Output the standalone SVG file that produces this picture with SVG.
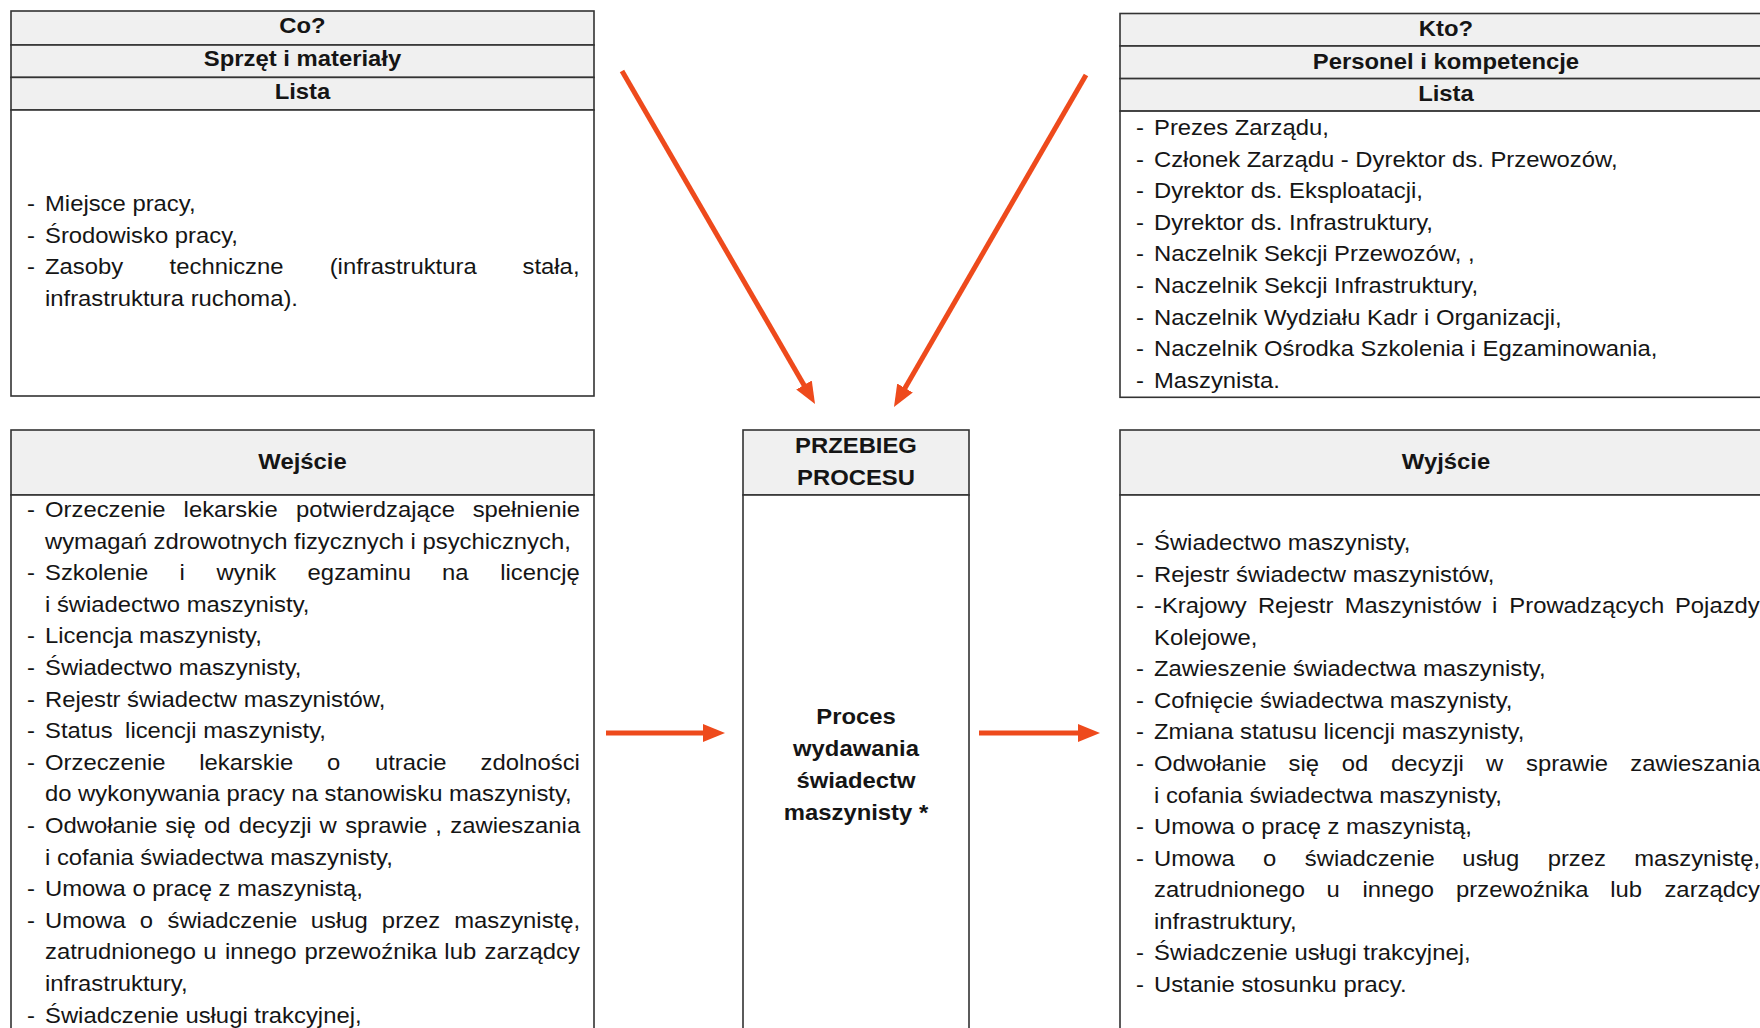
<svg xmlns="http://www.w3.org/2000/svg" width="1760" height="1028" viewBox="0 0 1760 1028">
<defs>
<style>
.hdr{fill:#f0f0f0;stroke:#333;stroke-width:1.6}
.body{fill:#fff;stroke:#333;stroke-width:1.6}
.t{font-family:"Liberation Sans",Arial,sans-serif;font-size:21.2px;fill:#151515}
.b{font-family:"Liberation Sans",Arial,sans-serif;font-size:21.2px;font-weight:bold;fill:#151515;text-anchor:middle}
.arr{stroke:#ee4a1c;stroke-width:5;fill:none;marker-end:url(#ah)}
</style>
<marker id="ah" markerUnits="userSpaceOnUse" markerWidth="24" markerHeight="20" refX="8" refY="9" orient="auto" viewBox="0 0 24 18">
<path d="M0,0 L22,9 L0,18 Z" fill="#ee4a1c"/>
</marker>
</defs>
<rect width="1760" height="1028" fill="#fff"/>

<g id="co">
<rect class="hdr" x="11" y="11" width="583" height="34"/>
<rect class="hdr" x="11" y="45" width="583" height="32.4"/>
<rect class="hdr" x="11" y="77.4" width="583" height="32.6"/>
<rect class="body" x="11" y="110" width="583" height="286"/>
<g transform="scale(1.125 1)">
<text class="b" x="268.89" y="33">Co?</text>
<text class="b" x="268.89" y="66">Sprzęt i materiały</text>
<text class="b" x="268.89" y="99">Lista</text>
<g class="t">
<text x="24" y="211">-</text><text x="40" y="211">Miejsce pracy,</text>
<text x="24" y="242.7">-</text><text x="40" y="242.7">Środowisko pracy,</text>
<text x="24" y="274.4">-</text><text x="40" y="274.4"><tspan x="40">Zasoby</tspan><tspan x="150.76">techniczne</tspan><tspan x="293.05">(infrastruktura</tspan><tspan x="464.48">stała,</tspan></text>
<text x="40" y="306">infrastruktura ruchoma).</text>
</g>
</g>
</g>

<g id="kto">
<rect class="hdr" x="1120" y="13.5" width="652" height="32.5"/>
<rect class="hdr" x="1120" y="46" width="652" height="32.6"/>
<rect class="hdr" x="1120" y="78.6" width="652" height="32.5"/>
<rect class="body" x="1120" y="111.1" width="652" height="286.2"/>
<g transform="scale(1.125 1)">
<text class="b" x="1285.33" y="36">Kto?</text>
<text class="b" x="1285.33" y="69">Personel i kompetencje</text>
<text class="b" x="1285.33" y="101.5">Lista</text>
<g class="t">
<text x="1009.78" y="135">-</text><text x="1025.78" y="135">Prezes Zarządu,</text>
<text x="1009.78" y="166.6">-</text><text x="1025.78" y="166.6">Członek Zarządu - Dyrektor ds. Przewozów,</text>
<text x="1009.78" y="198.2">-</text><text x="1025.78" y="198.2">Dyrektor ds. Eksploatacji,</text>
<text x="1009.78" y="229.8">-</text><text x="1025.78" y="229.8">Dyrektor ds. Infrastruktury,</text>
<text x="1009.78" y="261.4">-</text><text x="1025.78" y="261.4">Naczelnik Sekcji Przewozów, ,</text>
<text x="1009.78" y="293">-</text><text x="1025.78" y="293">Naczelnik Sekcji Infrastruktury,</text>
<text x="1009.78" y="324.6">-</text><text x="1025.78" y="324.6">Naczelnik Wydziału Kadr i Organizacji,</text>
<text x="1009.78" y="356.2">-</text><text x="1025.78" y="356.2">Naczelnik Ośrodka Szkolenia i Egzaminowania,</text>
<text x="1009.78" y="387.8">-</text><text x="1025.78" y="387.8">Maszynista.</text>
</g>
</g>
</g>

<g id="wejscie">
<rect class="hdr" x="11" y="430" width="583" height="65"/>
<rect class="body" x="11" y="495" width="583" height="560"/>
<g transform="scale(1.125 1)">
<text class="b" x="268.89" y="469">Wejście</text>
<g class="t">
<text x="24" y="517">-</text><text y="517"><tspan x="40">Orzeczenie</tspan><tspan x="163.21">lekarskie</tspan><tspan x="263.07">potwierdzające</tspan><tspan x="420.13">spełnienie</tspan></text>
<text x="40" y="548.6">wymagań zdrowotnych fizycznych i psychicznych,</text>
<text x="24" y="580.2">-</text><text y="580.2"><tspan x="40">Szkolenie</tspan><tspan x="159.45">i</tspan><tspan x="192.52">wynik</tspan><tspan x="273.44">egzaminu</tspan><tspan x="392.89">na</tspan><tspan x="444.66">licencję</tspan></text>
<text x="40" y="611.8">i świadectwo maszynisty,</text>
<text x="24" y="643.4">-</text><text x="40" y="643.4">Licencja maszynisty,</text>
<text x="24" y="675">-</text><text x="40" y="675">Świadectwo maszynisty,</text>
<text x="24" y="706.6">-</text><text x="40" y="706.6">Rejestr świadectw maszynistów,</text>
<text x="24" y="738.2">-</text><text y="738.2"><tspan x="40">Status</tspan><tspan x="111.2">licencji maszynisty,</tspan></text>
<text x="24" y="769.8">-</text><text y="769.8"><tspan x="40">Orzeczenie</tspan><tspan x="177.05">lekarskie</tspan><tspan x="290.75">o</tspan><tspan x="333.28">utracie</tspan><tspan x="427.16">zdolności</tspan></text>
<text x="40" y="801.4">do wykonywania pracy na stanowisku maszynisty,</text>
<text x="24" y="833">-</text><text y="833"><tspan x="40">Odwołanie</tspan><tspan x="146.83">się</tspan><tspan x="181.29">od</tspan><tspan x="212.27">decyzji</tspan><tspan x="284.07">w</tspan><tspan x="306.86">sprawie</tspan><tspan x="386.84">,</tspan><tspan x="400.3">zawieszania</tspan></text>
<text x="40" y="864.6">i cofania świadectwa maszynisty,</text>
<text x="24" y="896.2">-</text><text x="40" y="896.2">Umowa o pracę z maszynistą,</text>
<text x="24" y="927.8">-</text><text y="927.8"><tspan x="40">Umowa</tspan><tspan x="124.18">o</tspan><tspan x="148.87">świadczenie</tspan><tspan x="276.25">usług</tspan><tspan x="339.45">przez</tspan><tspan x="403.8">maszynistę,</tspan></text>
<text y="959.4"><tspan x="40">zatrudnionego</tspan><tspan x="180.7">u</tspan><tspan x="200.01">innego</tspan><tspan x="270.68">przewoźnika</tspan><tspan x="395">lub</tspan><tspan x="430.64">zarządcy</tspan></text>
<text x="40" y="991">infrastruktury,</text>
<text x="24" y="1022.6">-</text><text x="40" y="1022.6">Świadczenie usługi trakcyjnej,</text>
</g>
</g>
</g>

<g id="przebieg">
<rect class="hdr" x="743" y="430" width="226" height="65"/>
<rect class="body" x="743" y="495" width="226" height="560"/>
<g transform="scale(1.125 1)">
<text class="b" x="760.89" y="453">PRZEBIEG</text>
<text class="b" x="760.89" y="485">PROCESU</text>
<text class="b" x="760.89" y="724">Proces</text>
<text class="b" x="760.89" y="756">wydawania</text>
<text class="b" x="760.89" y="788">świadectw</text>
<text class="b" x="760.89" y="820">maszynisty *</text>
</g>
</g>

<g id="wyjscie">
<rect class="hdr" x="1120" y="430" width="652" height="65"/>
<rect class="body" x="1120" y="495" width="652" height="560"/>
<g transform="scale(1.125 1)">
<text class="b" x="1285.33" y="469">Wyjście</text>
<g class="t">
<text x="1009.78" y="550">-</text><text x="1025.78" y="550">Świadectwo maszynisty,</text>
<text x="1009.78" y="581.6">-</text><text x="1025.78" y="581.6">Rejestr świadectw maszynistów,</text>
<text x="1009.78" y="613.1">-</text><text y="613.1"><tspan x="1025.78">-Krajowy</tspan><tspan x="1118.15">Rejestr</tspan><tspan x="1195.36">Maszynistów</tspan><tspan x="1326.25">i</tspan><tspan x="1341.61">Prowadzących</tspan><tspan x="1488.85">Pojazdy</tspan></text>
<text x="1025.78" y="644.7">Kolejowe,</text>
<text x="1009.78" y="676.3">-</text><text x="1025.78" y="676.3">Zawieszenie świadectwa maszynisty,</text>
<text x="1009.78" y="707.9">-</text><text x="1025.78" y="707.9">Cofnięcie świadectwa maszynisty,</text>
<text x="1009.78" y="739.4">-</text><text x="1025.78" y="739.4">Zmiana statusu licencji maszynisty,</text>
<text x="1009.78" y="771">-</text><text y="771"><tspan x="1025.78">Odwołanie</tspan><tspan x="1145.37">się</tspan><tspan x="1192.6">od</tspan><tspan x="1236.34">decyzji</tspan><tspan x="1320.91">w</tspan><tspan x="1356.46">sprawie</tspan><tspan x="1449.2">zawieszania</tspan></text>
<text x="1025.78" y="802.6">i cofania świadectwa maszynisty,</text>
<text x="1009.78" y="834.1">-</text><text x="1025.78" y="834.1">Umowa o pracę z maszynistą,</text>
<text x="1009.78" y="865.7">-</text><text y="865.7"><tspan x="1025.78">Umowa</tspan><tspan x="1122.58">o</tspan><tspan x="1159.89">świadczenie</tspan><tspan x="1299.89">usług</tspan><tspan x="1375.72">przez</tspan><tspan x="1452.69">maszynistę,</tspan></text>
<text y="897.3"><tspan x="1025.78">zatrudnionego</tspan><tspan x="1179.1">u</tspan><tspan x="1211.03">innego</tspan><tspan x="1294.32">przewoźnika</tspan><tspan x="1431.26">lub</tspan><tspan x="1479.53">zarządcy</tspan></text>
<text x="1025.78" y="928.8">infrastruktury,</text>
<text x="1009.78" y="960.4">-</text><text x="1025.78" y="960.4">Świadczenie usługi trakcyjnej,</text>
<text x="1009.78" y="992">-</text><text x="1025.78" y="992">Ustanie stosunku pracy.</text>
</g>
</g>
</g>

<g id="connectors">
<line class="arr" x1="622" y1="71" x2="808" y2="391.9"/>
<line class="arr" x1="1086" y1="75" x2="901" y2="394.9"/>
<line class="arr" x1="606" y1="733" x2="711" y2="733"/>
<line class="arr" x1="979" y1="733" x2="1086" y2="733"/>
</g>
</svg>
